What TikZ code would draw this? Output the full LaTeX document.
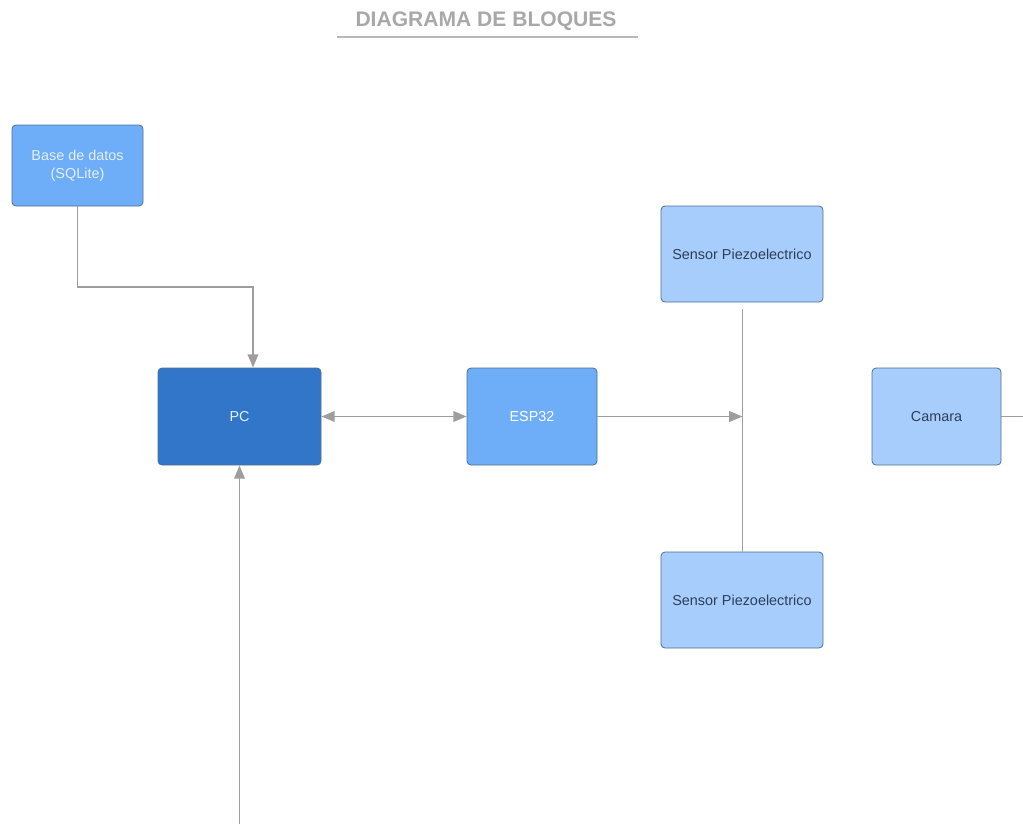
\documentclass[tikz,border=0pt]{standalone}
\usepackage{fontspec}
\setmainfont{Liberation Sans}
\usetikzlibrary{arrows.meta}
\definecolor{linegray}{HTML}{9E9E9E}
\definecolor{titlegray}{HTML}{A8A8A8}
\definecolor{darkblue}{HTML}{3176C9}
\definecolor{midblue}{HTML}{6EADF8}
\definecolor{lightblue}{HTML}{A7CDFC}
\definecolor{boxborder}{HTML}{4F6E94}
\definecolor{darktext}{HTML}{2E3E58}
\definecolor{lighttext}{HTML}{E4F0FF}
\tikzset{
  blk/.style={draw=boxborder, line width=0.6pt, rounded corners=3pt, inner sep=0pt, align=center, font=\fontsize{10.8pt}{13.5pt}\selectfont},
  conn/.style={draw=linegray, line width=1.3pt},
  arr/.style={conn, -{Triangle[length=10pt,width=8pt]}},
  darr/.style={conn, {Triangle[length=10pt,width=8pt]}-{Triangle[length=10pt,width=8pt]}}
}
\begin{document}
\begin{tikzpicture}[x=0.75pt,y=-0.75pt]
\useasboundingbox (0,0) rectangle (1023,824);
% title
\node[font=\bfseries\fontsize{15.8pt}{18pt}\selectfont, text=titlegray] (title) at (486,21) {DIAGRAMA DE BLOQUES};
\coordinate (ulL) at (337,37);
\coordinate (ulR) at (638,37);
\draw[draw=titlegray!80, line width=1.3pt] (ulL) -- (ulR);
% boxes
\node[blk, fill=midblue, text=lighttext, minimum width=98.25pt, minimum height=60.75pt] (base) at (77.5,165.5) {Base de datos\\(SQLite)};
\node[blk, fill=darkblue, text=lighttext, minimum width=122.25pt, minimum height=72.75pt] (pc) at (239.5,416.5) {PC};
\node[blk, fill=midblue, text=white, minimum width=97.5pt, minimum height=72.75pt] (esp) at (532,416.5) {ESP32};
\node[blk, fill=lightblue, text=darktext, minimum width=121.5pt, minimum height=72pt] (s1) at (742,254) {Sensor Piezoelectrico};
\node[blk, fill=lightblue, text=darktext, minimum width=121.5pt, minimum height=72pt] (s2) at (742,600) {Sensor Piezoelectrico};
\node[blk, fill=lightblue, text=darktext, minimum width=96.75pt, minimum height=72.75pt] (cam) at (936.5,416.5) {Camara};
% connectors
\coordinate (bend) at (253,287);
\draw[arr] (base.south) |- (bend) -- (bend |- pc.north);
\draw[darr] (pc.east) -- (esp.west);
\coordinate (junc) at (742.5,416.5);
\draw[arr] (esp.east) -- (junc);
\coordinate (vtop) at (742.5,309);
\draw[conn] (vtop) -- (vtop |- s2.north);
\coordinate (camout) at (1023,416.5);
\draw[conn] (cam.east) -- (camout);
\coordinate (pcin) at (239.5,824);
\draw[arr] (pcin) -- (pc.south);
\end{tikzpicture}
\end{document}
